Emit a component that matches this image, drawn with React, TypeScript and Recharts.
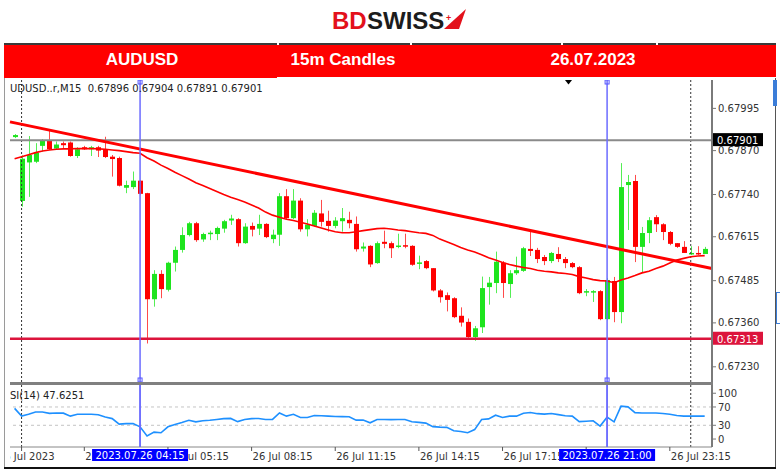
import { ComposedChart, Bar, Line, XAxis, YAxis, ReferenceLine } from "recharts";

// 15m candles, index 0 = 26 Jul 00:00
const firstIndex = -1;
const opens = [
  0.6791, 0.67721, 0.67835, 0.67837, 0.67884, 0.679, 0.67876, 0.67892, 0.67894, 0.67854,
  0.6788, 0.67874, 0.6788, 0.67874, 0.67852, 0.67848, 0.6776, 0.67762, 0.67781, 0.67744,
  0.6743, 0.67505, 0.67458, 0.67538, 0.67576, 0.6762, 0.67655, 0.67607, 0.67623, 0.67623,
  0.67639, 0.67663, 0.67667, 0.67596, 0.67647, 0.67639, 0.67653, 0.67608, 0.67621, 0.67735,
  0.6767, 0.67722, 0.67637, 0.67647, 0.67684, 0.67662, 0.67647, 0.67661, 0.67665, 0.67653,
  0.6758, 0.67588, 0.67537, 0.676, 0.67596, 0.67585, 0.6759, 0.67588, 0.67535, 0.67543,
  0.67522, 0.67456, 0.67442, 0.67433, 0.67381, 0.67363, 0.67318, 0.67347, 0.67466, 0.67478,
  0.67538, 0.67475, 0.67507, 0.67514, 0.67579, 0.67576, 0.67555, 0.67543, 0.67564, 0.67549,
  0.67537, 0.67525, 0.67451, 0.67451, 0.67454, 0.67371, 0.67484, 0.67392, 0.67768, 0.6778,
  0.67585, 0.67626, 0.67673, 0.67652, 0.67629, 0.67596, 0.67585, 0.67564, 0.67567, 0.67564,
];
const highs = [
  0.67919, 0.67856, 0.67913, 0.67892, 0.67904, 0.6793, 0.67897, 0.67897, 0.67897, 0.6788,
  0.67884, 0.67884, 0.67884, 0.67911, 0.67857, 0.67852, 0.67781, 0.67808, 0.67783, 0.67745,
  0.67516, 0.67516, 0.67541, 0.67586, 0.67643, 0.67659, 0.67659, 0.67627, 0.67633, 0.67645,
  0.67665, 0.6768, 0.6767, 0.67655, 0.67657, 0.6768, 0.67655, 0.67636, 0.67744, 0.67756,
  0.67756, 0.67729, 0.67667, 0.67694, 0.67724, 0.67692, 0.67673, 0.677, 0.67689, 0.67675,
  0.67598, 0.6759, 0.67601, 0.67633, 0.67601, 0.67624, 0.67624, 0.6759, 0.67559, 0.67546,
  0.67522, 0.6746, 0.6745, 0.67436, 0.67406, 0.67373, 0.67351, 0.67497, 0.67496, 0.67571,
  0.67543, 0.67516, 0.67556, 0.67585, 0.67632, 0.67582, 0.67561, 0.6757, 0.67584, 0.67555,
  0.6754, 0.67528, 0.6746, 0.67457, 0.67457, 0.67493, 0.67496, 0.67833, 0.67798, 0.67798,
  0.67644, 0.67673, 0.67679, 0.67655, 0.67632, 0.67596, 0.67602, 0.67587, 0.67587, 0.67585,
];
const lows = [
  0.67907, 0.67704, 0.67733, 0.67833, 0.67867, 0.67872, 0.67872, 0.67875, 0.67852, 0.67848,
  0.67872, 0.67854, 0.67851, 0.67848, 0.67793, 0.67764, 0.67744, 0.67756, 0.6774, 0.67299,
  0.67408, 0.67433, 0.67453, 0.67512, 0.67568, 0.67616, 0.676, 0.676, 0.67605, 0.67605,
  0.67627, 0.6765, 0.67586, 0.67594, 0.67616, 0.6762, 0.67611, 0.67596, 0.67588, 0.67667,
  0.67667, 0.6763, 0.67616, 0.67645, 0.67645, 0.6763, 0.6764, 0.6763, 0.6764, 0.67571,
  0.67571, 0.67525, 0.67535, 0.67581, 0.67552, 0.67581, 0.67581, 0.67529, 0.67519, 0.67519,
  0.67453, 0.6742, 0.67394, 0.67374, 0.67349, 0.67316, 0.67307, 0.6733, 0.67414, 0.67448,
  0.67434, 0.67434, 0.67502, 0.67511, 0.67558, 0.67537, 0.67531, 0.67537, 0.6754, 0.67522,
  0.67522, 0.67445, 0.67439, 0.67422, 0.67368, 0.67368, 0.67362, 0.67359, 0.67635, 0.6754,
  0.67508, 0.67596, 0.67629, 0.67605, 0.6759, 0.67582, 0.67567, 0.67561, 0.67561, 0.67564,
];
const closes = [
  0.67916, 0.67846, 0.67857, 0.67864, 0.679, 0.67874, 0.67888, 0.67886, 0.67854, 0.67874,
  0.67874, 0.6788, 0.6787, 0.67851, 0.67845, 0.67766, 0.67768, 0.67781, 0.67742, 0.6743,
  0.67505, 0.6746, 0.67538, 0.67576, 0.6762, 0.67655, 0.67605, 0.67623, 0.67627, 0.67641,
  0.67661, 0.67669, 0.67596, 0.67645, 0.67636, 0.67653, 0.67614, 0.67621, 0.67735, 0.6767,
  0.67722, 0.67637, 0.67651, 0.67686, 0.67659, 0.67647, 0.67663, 0.6767, 0.67655, 0.67578,
  0.67586, 0.67533, 0.67596, 0.67594, 0.67581, 0.67589, 0.67586, 0.67532, 0.67539, 0.67522,
  0.67456, 0.67436, 0.67428, 0.67377, 0.67361, 0.67318, 0.67344, 0.67463, 0.67479, 0.67541,
  0.67478, 0.67507, 0.67516, 0.67581, 0.67573, 0.67549, 0.67543, 0.67567, 0.67549, 0.67537,
  0.67525, 0.67448, 0.67454, 0.67454, 0.67371, 0.67487, 0.67392, 0.67762, 0.67777, 0.67585,
  0.67626, 0.67664, 0.67652, 0.67629, 0.67594, 0.67585, 0.67567, 0.67567, 0.67564, 0.67579,
];
const maValues = [
  0.67846, 0.67852, 0.67858, 0.67864, 0.67869, 0.67872, 0.67874, 0.67875, 0.67875, 0.67876,
  0.67876, 0.67876, 0.67875, 0.67874, 0.67872, 0.6787, 0.67867, 0.67864, 0.67862, 0.67849,
  0.67839, 0.67827, 0.67817, 0.67806, 0.67796, 0.67786, 0.67775, 0.67767, 0.67758, 0.67749,
  0.6774, 0.67732, 0.67725, 0.67718, 0.67709, 0.677, 0.67688, 0.67679, 0.67673, 0.67667,
  0.67663, 0.67658, 0.67653, 0.67647, 0.67641, 0.67635, 0.6763, 0.67627, 0.67627, 0.6763,
  0.67633, 0.67636, 0.67639, 0.6764, 0.67638, 0.67635, 0.67633, 0.6763, 0.67627, 0.67625,
  0.67619, 0.67608, 0.676, 0.67592, 0.67583, 0.67576, 0.6757, 0.67562, 0.67553, 0.67546,
  0.67539, 0.67533, 0.67528, 0.67524, 0.67521, 0.67516, 0.67513, 0.67511, 0.67508, 0.67506,
  0.67503, 0.67497, 0.67493, 0.67488, 0.67485, 0.67484, 0.67479, 0.67487, 0.67493, 0.675,
  0.67508, 0.67513, 0.67521, 0.67528, 0.67537, 0.67546, 0.67551, 0.67556, 0.67558, 0.67559,
];
const rsiValues = [
  67, 50, 54, 59, 59, 56, 57, 56.5, 50, 54,
  54, 54, 53, 48, 44.6, 32.6, 33.7, 33.7, 26.7, 6.5,
  15, 13.7, 26.7, 31.5, 36, 41, 37.6, 39.8, 41, 42.8,
  44.6, 45, 38, 42.8, 44.6, 45, 42.8, 42.8, 57, 50,
  54, 47, 47, 51.5, 51, 50, 49.3, 49, 48.5, 41.3,
  41.3, 35.4, 42.8, 42.8, 42.4, 42.8, 42.8, 37.6, 36.3, 34.8,
  27, 26, 25.4, 18, 16.3, 13.7, 20.6, 42.8, 44, 52,
  47, 50, 50, 56.5, 58, 55.4, 54.3, 55.9, 53.3, 51,
  50, 38, 39, 39.8, 28.3, 47.8, 37.6, 71.7, 70.2, 57.6,
  57, 57, 57, 55.9, 54.3, 51.5, 50, 50, 50, 50,
];

const priceTicks = [0.6723, 0.6736, 0.67485, 0.67615, 0.6774, 0.6787, 0.67995];
const rsiTicks = [0, 30, 70, 100];
const timeTicks = [0, 9, 21, 33, 45, 57, 69, 81, 93];
const timeLabels = [
  "26 Jul 2023", "26 Jul 02:15", "26 Jul 05:15", "26 Jul 08:15", "26 Jul 11:15",
  "26 Jul 14:15", "26 Jul 17:15", "26 Jul 20:15", "26 Jul 23:15",
];
const daySeparators = [0, 96];
const markedCandles = [17, 84];
const markedLabels = ["2023.07.26 04:15", "2023.07.26 21:00"];
const trendLine = [
  { i: -1.66, price: 0.67955 },
  { i: 99.05, price: 0.67521 },
];
const lastPrice = 0.67901;
const supportPrice = 0.67313;

const xDomain = [-1.66, 99.05];
const priceDomain = [0.67185, 0.68079];
const rsiDomain = [-17.4, 118];

const candles = opens.map((open, k) => ({
  i: firstIndex + k,
  open,
  high: highs[k],
  low: lows[k],
  close: closes[k],
  ma: maValues[k],
}));
const rsiData = rsiValues.map((rsi, k) => ({ i: firstIndex + k, rsi }));

const FONT = "DejaVu Sans";
const UP = "#1ee41e";
const DOWN = "#ff0000";
const PLOT_LEFT = 10;
const PLOT_W = 702;
const BOX_HALF = 48;
const pxPerCandle = PLOT_W / (xDomain[1] - xDomain[0]);

function Candle(props: any) {
  const { x, y, width, height, payload } = props;
  if (!payload || x == null) return null;
  const top = Math.min(y, y + height);
  const h = Math.abs(height);
  const ppu = h / (payload.high - payload.low || 1);
  const yOf = (v: number) => top + (payload.high - v) * ppu;
  const up = payload.close >= payload.open;
  const bTop = yOf(Math.max(payload.open, payload.close));
  const bBot = yOf(Math.min(payload.open, payload.close));
  const cx = Math.round(x + width / 2) + 0.5;
  return (
    <g>
      <line x1={cx} x2={cx} y1={top} y2={top + h} stroke={up ? "#55ee55" : "#ff4a4a"} strokeWidth={1} />
      <rect x={cx - 2.5} y={bTop} width={5} height={Math.max(bBot - bTop, 1.5)} fill={up ? UP : DOWN} />
    </g>
  );
}

const priceTag = (fill: string, text: string) => (props: any) => {
  const vb = props.viewBox || {};
  const x = vb.x + vb.width + 1;
  return (
    <g>
      <rect x={x} y={vb.y - 7} width={50} height={13} fill={fill} />
      <text x={x + 4} y={vb.y + 4} fill="#fff" fontSize={10} fontFamily={FONT}>
        {text}
      </text>
    </g>
  );
};

function MarkerSquares(props: any) {
  const vb = props.viewBox || {};
  const x = vb.x;
  return (
    <g fill="none" stroke="#5555ff" strokeWidth={1}>
      <rect x={x - 2} y={vb.y} width={4} height={4} />
      <rect x={x - 2} y={vb.y + vb.height - 4} width={4} height={4} />
    </g>
  );
}

const timeBox = (text: string) => (props: any) => {
  const vb = props.viewBox || {};
  const y = vb.y + vb.height + 2;
  return (
    <g>
      <rect x={vb.x - BOX_HALF} y={y} width={BOX_HALF * 2} height={12} fill="#0000ff" />
      <text x={vb.x} y={y + 10} fill="#fff" fontSize={10} fontFamily={FONT} textAnchor="middle">
        {text}
      </text>
    </g>
  );
};

function TimeTick(props: any) {
  const { x, y, payload } = props;
  const idx = timeTicks.indexOf(payload.value);
  const label = timeLabels[idx];
  const id = "tclip" + payload.value;
  if (idx === 0) {
    return (
      <g>
        <defs>
          <clipPath id={id}>
            <rect x={PLOT_LEFT} y={y - 10} width={120} height={30} />
          </clipPath>
        </defs>
        <text x={x + 33} y={y} dy="0.71em" textAnchor="end" fill="#333" fontSize={10} fontFamily={FONT} clipPath={`url(#${id})`}>
          {label}
        </text>
      </g>
    );
  }
  // the blue time boxes of the marked candles cover part of some labels
  let from = x + 1;
  let to = x + 62;
  markedCandles.forEach((m) => {
    const c = x + (m - payload.value) * pxPerCandle;
    const l = c - BOX_HALF;
    const r = c + BOX_HALF;
    if (l <= from && r > from) from = r;
    else if (l > from && l < to) to = l;
  });
  if (to - from < 4) return null;
  return (
    <g>
      <defs>
        <clipPath id={id}>
          <rect x={from} y={y - 10} width={to - from} height={30} />
        </clipPath>
      </defs>
      <text x={x + 1} y={y} dy="0.71em" textAnchor="start" fill="#333" fontSize={10} fontFamily={FONT} clipPath={`url(#${id})`}>
        {label}
      </text>
    </g>
  );
}

const abs = (left: number, top: number, width: number, height: number, extra: any = {}) => ({
  position: "absolute" as const,
  left,
  top,
  width,
  height,
  ...extra,
});

export default function App() {
  return (
    <div style={{ position: "absolute", left: 0, top: 0, width: 780, height: 470, background: "#fff", fontFamily: FONT, overflow: "hidden" }}>
      {/* logo */}
      <svg style={abs(320, 4, 160, 32)} viewBox="320 4 160 32">
        <text x={332} y={29} fontFamily="Liberation Sans" fontWeight="bold" fontSize={24} fill="#e3111b">BD</text>
        <text x={367} y={29} fontFamily="Liberation Sans" fontWeight="bold" fontSize={24} fill="#1c1c1c">SWISS</text>
        <polygon points="444,29 466,9 459,29" fill="#e3111b" />
        <text x={446} y={21} fontFamily="Liberation Sans" fontWeight="bold" fontSize={9} fill="#e3111b">+</text>
      </svg>

      {/* title bar */}
      <div style={abs(4, 43, 772, 34, { background: "#ff0000", borderTop: "2px solid #3a3a3a", boxSizing: "border-box" })} />
      <div style={abs(4, 75, 273, 3, { background: "#ff0000" })} />
      {[277, 410, 561, 656].map((x) => (
        <div key={x} style={abs(x, 43, 1.5, 2, { background: "#fff" })} />
      ))}
      {[
        { t: "AUDUSD", c: 142 },
        { t: "15m Candles", c: 343 },
        { t: "26.07.2023", c: 593 },
      ].map((h) => (
        <div key={h.t} style={abs(h.c - 80, 50, 160, 20, { color: "#fff", fontFamily: "Liberation Sans", fontWeight: "bold", fontSize: 17, textAlign: "center", lineHeight: "20px" })}>
          {h.t}
        </div>
      ))}

      {/* frame */}
      <div style={abs(4, 78, 1, 390, { background: "#9a9a9a" })} />
      <div style={abs(775, 78, 1, 390, { background: "#555" })} />
      <div style={abs(773, 80, 4, 26, { background: "#3b7dd8" })} />
      <div style={abs(776, 292, 4, 32, { border: "1px solid #3b7dd8", borderRight: "none", boxSizing: "border-box" })} />
      <div style={abs(4, 467, 772, 2, { background: "#111" })} />

      {/* price pane */}
      <div style={abs(0, 80, 780, 302)}>
        <ComposedChart width={780} height={302} data={candles} margin={{ top: 0, right: 0, bottom: 0, left: PLOT_LEFT }}>
          <XAxis hide type="number" dataKey="i" domain={xDomain} allowDataOverflow />
          <YAxis
            orientation="right"
            width={68}
            domain={priceDomain}
            allowDataOverflow
            ticks={priceTicks}
            interval={0}
            tickFormatter={(v: number) => v.toFixed(5)}
            tick={{ fill: "#333", fontSize: 10, fontFamily: FONT }}
            tickSize={4}
            tickLine={{ stroke: "#777" }}
            axisLine={{ stroke: "#7a7a7a", strokeWidth: 2 }}
          />
          {daySeparators.map((d) => (
            <ReferenceLine key={"d" + d} x={d} stroke="#333" strokeDasharray="2 2" />
          ))}
          <ReferenceLine y={lastPrice} stroke="#8a8a8a" strokeWidth={2} label={priceTag("#000", lastPrice.toFixed(5))} />
          <ReferenceLine y={supportPrice} stroke="#dc143c" strokeWidth={2.5} label={priceTag("#dc143c", supportPrice.toFixed(5))} />
          <Bar dataKey={(d: any) => [d.low, d.high]} barSize={5} shape={(p: any) => <Candle {...p} />} isAnimationActive={false} />
          <Line dataKey="ma" type="linear" stroke="#ff0000" strokeWidth={1.6} dot={false} isAnimationActive={false} />
          <ReferenceLine
            segment={[
              { x: trendLine[0].i, y: trendLine[0].price },
              { x: trendLine[1].i, y: trendLine[1].price },
            ]}
            stroke="#ff0000"
            strokeWidth={3}
            ifOverflow="visible"
          />
          {markedCandles.map((m) => (
            <ReferenceLine key={"m" + m} x={m} stroke="#6b6bff" strokeWidth={1.5} label={<MarkerSquares />} />
          ))}
        </ComposedChart>
      </div>

      <div style={abs(10, 82, 300, 13, { fontSize: 10, color: "#222", whiteSpace: "pre", lineHeight: "13px" })}>
        {"UDUSD..r,M15  0.67896 0.67904 0.67891 0.67901"}
      </div>
      <svg style={abs(560, 78, 20, 10)} viewBox="560 78 20 10">
        <polygon points="565,80 572,80 568.5,84.5" fill="#000" />
      </svg>

      {/* pane separator */}
      <div style={abs(10, 382, 703, 3, { background: "#808080" })} />

      {/* RSI pane */}
      <div style={abs(0, 385, 780, 85)}>
        <ComposedChart width={780} height={85} data={rsiData} margin={{ top: 0, right: 0, bottom: 0, left: PLOT_LEFT }}>
          <XAxis
            type="number"
            dataKey="i"
            domain={xDomain}
            allowDataOverflow
            ticks={timeTicks}
            interval={0}
            height={23}
            tick={<TimeTick />}
            tickSize={4}
            tickLine={{ stroke: "#555" }}
            axisLine={{ stroke: "#888" }}
          />
          <YAxis
            orientation="right"
            width={68}
            domain={rsiDomain}
            allowDataOverflow
            ticks={rsiTicks}
            interval={0}
            tick={{ fill: "#333", fontSize: 10, fontFamily: FONT }}
            tickSize={4}
            tickLine={{ stroke: "#777" }}
            axisLine={{ stroke: "#7a7a7a", strokeWidth: 2 }}
          />
          <ReferenceLine y={70} stroke="#c4c4c4" strokeDasharray="3 3" />
          <ReferenceLine y={30} stroke="#c4c4c4" strokeDasharray="3 3" />
          {daySeparators.map((d) => (
            <ReferenceLine key={"d" + d} x={d} stroke="#333" strokeDasharray="2 2" />
          ))}
          <Line dataKey="rsi" type="linear" stroke="#1e90ff" strokeWidth={1.6} dot={false} isAnimationActive={false} />
          {markedCandles.map((m) => (
            <ReferenceLine key={"m" + m} x={m} stroke="#6b6bff" strokeWidth={1.5} />
          ))}
        </ComposedChart>
      </div>

      {/* time boxes of the marked candles, drawn on top of the axis labels */}
      <div style={abs(0, 385, 780, 85, { pointerEvents: "none" })}>
        <ComposedChart width={780} height={85} data={rsiData} margin={{ top: 0, right: 68, bottom: 23, left: PLOT_LEFT }}>
          <XAxis hide type="number" dataKey="i" domain={xDomain} allowDataOverflow />
          <YAxis hide domain={rsiDomain} allowDataOverflow />
          {markedCandles.map((m, k) => (
            <ReferenceLine key={"b" + m} x={m} stroke="#6b6bff" strokeWidth={1.5} label={timeBox(markedLabels[k])} />
          ))}
        </ComposedChart>
      </div>

      <div style={abs(10, 389, 120, 13, { fontSize: 10, color: "#222", lineHeight: "13px" })}>SI(14) 47.6251</div>
    </div>
  );
}
